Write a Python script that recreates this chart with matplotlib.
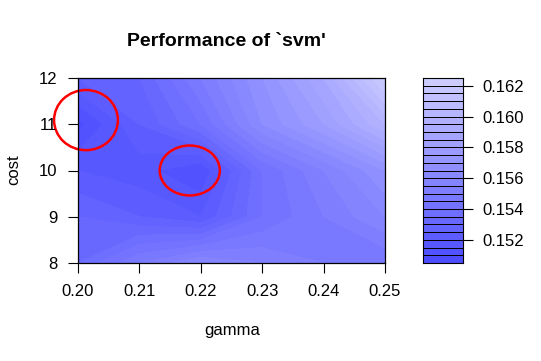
import numpy as np
import matplotlib
matplotlib.use("Agg")
import matplotlib.pyplot as plt
from matplotlib.colors import ListedColormap, BoundaryNorm
from matplotlib.patches import Ellipse

plt.rcParams['font.family'] = ['Liberation Sans', 'DejaVu Sans']

gamma = [0.20, 0.21, 0.22, 0.23, 0.24, 0.25]
cost = [8, 9, 10, 11, 12]

# error rate per (cost, gamma), rows follow cost
perf_c8 = [0.1535, 0.1550, 0.1560, 0.1555, 0.1550, 0.1545]
perf_c9 = [0.1530, 0.1525, 0.1520, 0.1540, 0.1550, 0.1560]
perf_c10 = [0.1520, 0.1517, 0.1510, 0.1540, 0.1555, 0.1570]
perf_c11 = [0.1508, 0.1525, 0.1540, 0.1565, 0.1580, 0.1600]
perf_c12 = [0.1525, 0.1530, 0.1550, 0.1570, 0.1590, 0.1622]

levels = np.round(np.arange(0.1505, 0.16251, 0.0005), 5)
cbar_ticks = [0.152, 0.154, 0.156, 0.158, 0.160, 0.162]

# R hsv_palette(h=2/3, from=0.7, to=0.2)
sat = np.linspace(0.7, 0.2, len(levels) - 1)
cols = [(1 - s, 1 - s, 1.0) for s in sat]
cmap = ListedColormap(cols)
norm = BoundaryNorm(levels, cmap.N)

Z = np.array([perf_c8, perf_c9, perf_c10, perf_c11, perf_c12])

W, H = 541, 361
fig = plt.figure(figsize=(W / 100, H / 100), dpi=100)

ax = fig.add_axes([78 / W, 1 - 263 / H, 307 / W, 185 / H])
ax.contourf(gamma, cost, Z, levels=levels, colors=cols, antialiased=False)
ax.set_xlim(0.20, 0.25)
ax.set_ylim(8, 12)
ax.set_xticks(gamma)
ax.set_xticklabels(["%.2f" % g for g in gamma])
ax.set_yticks(cost)
ax.tick_params(direction="out", length=7, width=0.8, labelsize=12, pad=8)
for sp in ax.spines.values():
    sp.set_linewidth(0.9)

fig.text(232 / W, 1 - 330 / H, "gamma", ha="center", va="center", fontsize=12)
fig.text(14 / W, 1 - 170 / H, "cost", ha="center", va="center", fontsize=12,
         rotation=90)

# hand-drawn red circles around the best spots
ax.add_patch(Ellipse((0.2013, 11.09), 0.0104, 1.30, fill=False, ec="red",
                     lw=1.8, clip_on=False))
ax.add_patch(Ellipse((0.2182, 10.0), 0.0098, 1.08, fill=False, ec="red",
                     lw=1.8, clip_on=False))

fig.text(226.5 / W, 1 - 41 / H, "Performance of `svm'", ha="center",
         va="center", fontsize=14, fontweight="bold")

cax = fig.add_axes([423 / W, 1 - 263 / H, 39.5 / W, 185 / H])
mids = (levels[:-1] + levels[1:]) / 2
cax.pcolormesh([0, 1], levels, mids.reshape(-1, 1), cmap=cmap, norm=norm,
               edgecolors="black", linewidth=0.7)
cax.set_xlim(0, 1)
cax.set_ylim(levels[0], levels[-1])
cax.set_xticks([])
cax.yaxis.tick_right()
cax.set_yticks(cbar_ticks)
cax.set_yticklabels(["%.3f" % t for t in cbar_ticks])
cax.tick_params(direction="out", length=7, width=0.8, labelsize=12, pad=7)

fig.savefig("out.png", dpi=100)
